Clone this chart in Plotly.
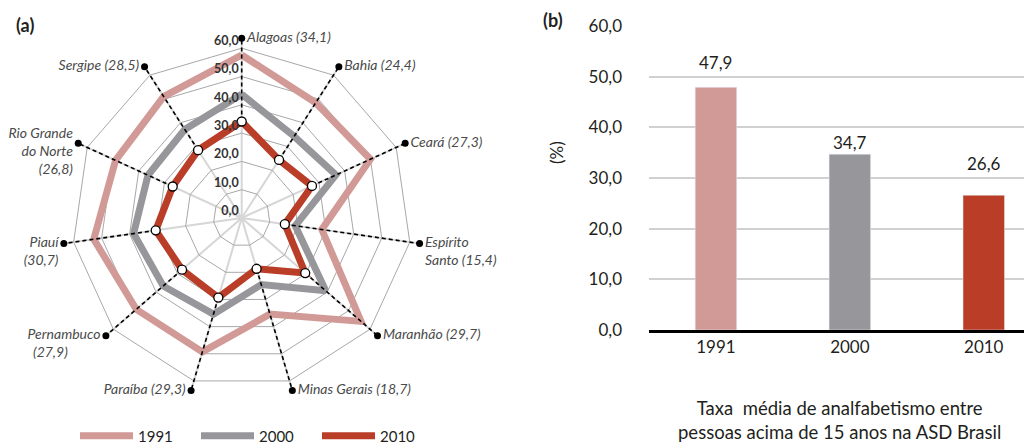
import plotly.graph_objects as go

# --- data -----------------------------------------------------------------
states = ["Alagoas", "Bahia", "Ceará", "Espírito Santo", "Maranhão", "Minas Gerais",
          "Paraíba", "Pernambuco", "Piauí", "Rio Grande do Norte", "Sergipe"]
# outer labels as printed, {v} is the 2010 rate (a leading blank line keeps
# the first printed line level with the dot)
NB = "\u00a0"
state_labels = ["Alagoas ({v})", "Bahia ({v})", "Ceará ({v})",
                NB + "<br>Espírito<br>Santo ({v})", "Maranhão ({v})",
                "Minas Gerais ({v})", "Paraíba ({v})",
                NB + "<br>Pernambuco<br>({v})" + NB * 10,
                NB + "<br>Piauí<br>({v})", NB + "<br>Rio Grande<br>do Norte<br>({v})",
                "Sergipe ({v})"]
rates_1991 = [57.6, 48.4, 50.0, 28.6, 55.8, 35.4, 49.3, 49.3, 52.8, 49.0, 51.0]
rates_2000 = [43.7, 34.3, 36.6, 19.1, 39.3, 24.5, 35.4, 36.7, 38.6, 36.4, 37.2]
rates_2010 = [34.1, 24.4, 27.3, 15.4, 29.7, 18.7, 29.3, 27.9, 30.7, 26.8, 28.5]
radial_ticks = [0, 10, 20, 30, 40, 50, 60]

years = ["1991", "2000", "2010"]
mean_rates = [47.9, 34.7, 26.6]
bar_ticks = [0, 10, 20, 30, 40, 50, 60]

# --- style ----------------------------------------------------------------
PINK, GREY, RED = "#d29a97", "#97979b", "#b93d27"
INK = "#231f20"
FONT = "Lato"
W, H = 1032, 445
OFF = 8  # the page body margin shifts the figure by this many px
LEADER_R = 63.5
label_pos = ["middle right", "middle right", "middle right", "middle right",
             "middle right", "middle right", "middle left", "middle left",
             "middle left", "middle left", "middle left"]
bar_label_shift = [25, 12, 32]


def fmt(v):
    return f"{v:.1f}".replace(".", ",")


def px(sx):
    return (sx - OFF) / W


def py(sy):
    return 1 - (sy - OFF) / H


fig = go.Figure()

closed = states + states[:1]
for year, vals, col in [("1991", rates_1991, PINK), ("2000", rates_2000, GREY),
                        ("2010", rates_2010, RED)]:
    fig.add_scatterpolar(r=vals + vals[:1], theta=closed, mode="lines", name=year,
                         line=dict(color=col, width=7), hoverinfo="skip")

# dashed leader lines from the 2010 point out to the label dot
lr, lt = [], []
for s, v in zip(states, rates_2010):
    lr += [v, LEADER_R, None]
    lt += [s, s, None]
fig.add_scatterpolar(r=lr, theta=lt, mode="lines", showlegend=False, cliponaxis=False,
                     line=dict(color="black", width=1.6, dash="4px,3px"), hoverinfo="skip")

fig.add_scatterpolar(
    r=[LEADER_R] * len(states), theta=states, mode="markers+text", showlegend=False,
    cliponaxis=False,
    marker=dict(color="black", size=7),
    text=[lab.format(v=fmt(v)) for lab, v in zip(state_labels, rates_2010)],
    textposition=label_pos,
    textfont=dict(family=FONT, size=14, color="#4a4a4a", style="italic"),
    hoverinfo="skip",
)

fig.add_scatterpolar(r=rates_2010, theta=states, mode="markers", showlegend=False,
                     marker=dict(color="white", size=9, line=dict(color="black", width=1.3)),
                     hoverinfo="skip")

# radial scale labels, set just left of the Alagoas spoke
fig.add_scatterpolar(r=[max(t, 0.05) for t in radial_ticks],
                     theta=[states[0]] * len(radial_ticks), mode="text",
                     text=[fmt(t) + NB for t in radial_ticks], textposition="top left",
                     cliponaxis=False, showlegend=False, hoverinfo="skip",
                     textfont=dict(family=FONT, size=12.5, color="#333333", weight="bold"))

# --- bar panel ------------------------------------------------------------
fig.add_bar(x=years, y=mean_rates, marker_color=[PINK, GREY, RED], width=0.31,
            showlegend=False, hoverinfo="skip", xaxis="x", yaxis="y")

for i, (v, dy) in enumerate(zip(mean_rates, bar_label_shift)):
    fig.add_annotation(x=i, y=v, yshift=dy, text=fmt(v), showarrow=False,
                       xref="x", yref="y", font=dict(family=FONT, size=17, color=INK))

paper_text = [
    (556, 153, "(%)", -90, 17),
    (839, 420, "Taxa  média de analfabetismo entre<br>pessoas acima de 15 anos na ASD Brasil", 0, 18.5),
    (25, 25, "<b>(a)</b>", 0, 18),
    (553, 20, "<b>(b)</b>", 0, 18),
]
for sx, sy, txt, ang, size in paper_text:
    fig.add_annotation(x=px(sx), y=py(sy), xref="paper", yref="paper",
                       xanchor="center", yanchor="middle", text=txt, textangle=ang,
                       showarrow=False, align="center",
                       font=dict(family=FONT, size=size, color=INK))

R = LEADER_R * 2.83
cx, cy = 241.7, 218
fig.update_layout(
    width=W, height=H,
    margin=dict(l=0, r=0, t=0, b=0, autoexpand=False),
    paper_bgcolor="white", plot_bgcolor="white",
    separators=",.",
    font=dict(family=FONT, color=INK),
    polar=dict(
        domain=dict(x=[px(cx - R), px(cx + R)], y=[py(cy + R), py(cy - R)]),
        bgcolor="white",
        gridshape="linear",
        radialaxis=dict(range=[0, LEADER_R], tickvals=radial_ticks, showticklabels=False,
                        angle=90, showline=False, ticks="", gridcolor="#a8a8a8", gridwidth=0.8),
        angularaxis=dict(direction="clockwise", rotation=90, showticklabels=False, ticks="",
                         showline=False, gridcolor="#d6d6d6", gridwidth=2),
    ),
    xaxis=dict(domain=[px(649), 1], range=[-0.5, 2.42], type="category",
               showgrid=False, ticks="",
               showline=True, linecolor="black", linewidth=3,
               tickfont=dict(family=FONT, size=17, color=INK)),
    yaxis=dict(domain=[py(330), py(26)], range=[0, 60], tickvals=bar_ticks,
               tickformat=".1f", showgrid=True, gridcolor="#d0d0d0", gridwidth=1.5,
               zeroline=False, ticklabelstandoff=26,
               tickfont=dict(family=FONT, size=17, color=INK)),
    legend=dict(orientation="h", x=px(75), xanchor="left", y=py(436), yanchor="middle",
                itemwidth=53, entrywidth=53, entrywidthmode="pixels",
                font=dict(family=FONT, size=15, color=INK), bgcolor="rgba(0,0,0,0)"),
)

fig.write_html("out.html")
